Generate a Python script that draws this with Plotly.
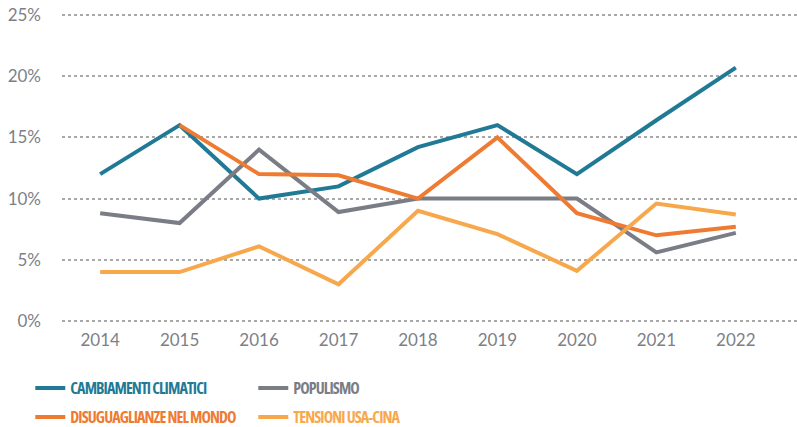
import plotly.graph_objects as go

years = [2014, 2015, 2016, 2017, 2018, 2019, 2020, 2021, 2022]
cambiamenti = [12.0, 16.0, 10.0, 11.0, 14.2, 16.0, 12.0, 16.4, 20.7]
populismo = [8.8, 8.0, 14.0, 8.9, 10.0, 10.0, 10.0, 5.6, 7.2]
disuguaglianze = [None, 16.0, 12.0, 11.9, 10.0, 15.0, 8.8, 7.0, 7.7]
tensioni = [4.0, 4.0, 6.1, 3.0, 9.0, 7.1, 4.1, 9.6, 8.7]
y_ticks = [0, 5, 10, 15, 20, 25]
y_labels = ["0%", "5%", "10%", "15%", "20%", "25%"]

names = ["CAMBIAMENTI CLIMATICI", "POPULISMO", "DISUGUAGLIANZE NEL MONDO", "TENSIONI USA-CINA"]
colors = ["#217a95", "#7b7d86", "#ee7b31", "#f8a84c"]
series = [cambiamenti, populismo, disuguaglianze, tensioni]
legends = ["legend", "legend", "legend2", "legend2"]

fig = go.Figure()
for name, col, vals, lg in zip(names, colors, series, legends):
    fig.add_trace(go.Scatter(
        x=years, y=vals, mode="lines",
        name=f"<span style='color:{col};font-stretch:75%;letter-spacing:-0.9px'>{name}</span>",
        line=dict(color=col, width=4), legend=lg, connectgaps=False,
    ))

tick_font = dict(family="Lato, Roboto, sans-serif", size=17, color="#7d7f87")
leg_font = dict(family="Open Sans, Noto Sans, Roboto, sans-serif", size=16, weight="bold")

common_leg = dict(orientation="h", xref="container", yref="container", xanchor="left",
                  yanchor="middle", font=leg_font, entrywidth=178, entrywidthmode="pixels",
                  traceorder="normal", bgcolor="rgba(0,0,0,0)", itemclick=False)

fig.update_layout(
    width=797, height=427,
    margin=dict(l=62, r=0, t=10, b=101, autoexpand=False),
    paper_bgcolor="white", plot_bgcolor="white",
    xaxis=dict(range=[2013.52, 2022.77], tickvals=years, showgrid=False, zeroline=False,
               showline=False, tickfont=tick_font, ticks="", ticklabelstandoff=2),
    yaxis=dict(range=[-0.41, 25.41], tickvals=y_ticks, ticktext=y_labels,
               showgrid=True, gridcolor="#a8a8a8", gridwidth=1.5, griddash="dot",
               zeroline=False, showline=False, tickfont=tick_font, ticks="", ticklabelstandoff=20),
    legend=dict(common_leg, x=0.038, y=0.0913),
    legend2=dict(common_leg, x=0.038, y=0.0234),
)

fig.write_html("out.html", config={"displayModeBar": False},
               post_script="document.body.style.margin='0';document.body.style.padding='0';")
